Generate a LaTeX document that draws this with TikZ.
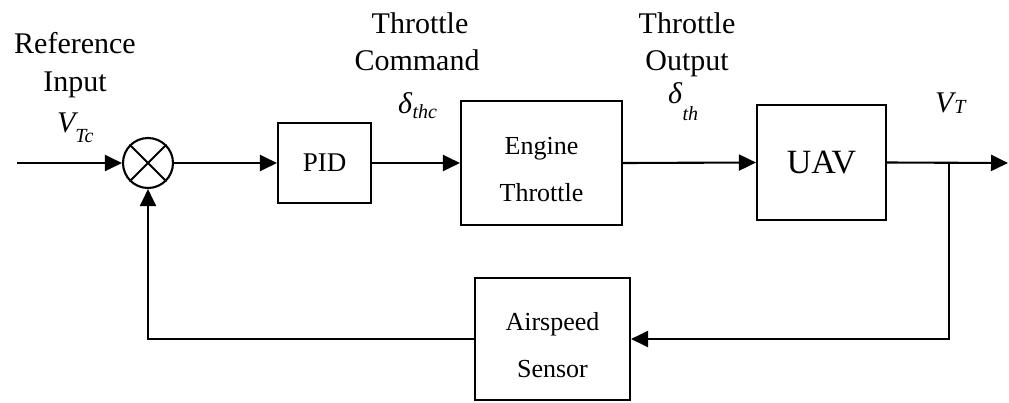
\documentclass[tikz,border=0pt]{standalone}
\usepackage{fontspec}
\setmainfont{Liberation Serif}
\usetikzlibrary{arrows.meta}
\begin{document}
\begin{tikzpicture}[x=1pt,y=-1pt,
  blk/.style={draw, line width=2.1pt, inner sep=0pt},
  blktxt/.style={font=\fontsize{26}{47}\selectfont, align=center, inner sep=0pt},
  lbl/.style={font=\fontsize{30}{36}\selectfont, inner sep=0pt, anchor=base},
  sym/.style={font=\fontsize{30}{36}\selectfont, inner sep=0pt, anchor=base west},
  conn/.style={line width=2.1pt},
  arr/.style={conn, -{Triangle[length=17pt,width=16pt]}},
]
\useasboundingbox (0,0) rectangle (1009,402);

% summing junction
\node[circle, draw, line width=2.1pt, minimum size=50pt, inner sep=0pt] (sum) at (148,163) {};
\draw[conn] (sum.north west) -- (sum.south east);
\draw[conn] (sum.north east) -- (sum.south west);

% blocks
\node[blk, minimum width=93pt, minimum height=80pt, font=\fontsize{27}{32}\selectfont] (pid) at (324.5,163) {PID};
\node[blk, minimum width=161pt, minimum height=124pt] (eng) at (541.5,163) {};
\node[blktxt] (engt) at ([yshift=-7pt]eng.center) {Engine\\Throttle};
\node[blk, minimum width=129pt, minimum height=115pt, font=\fontsize{34}{40}\selectfont] (uav) at (821.5,162.5) {UAV};
\node[blk, minimum width=155pt, minimum height=122pt] (sen) at (552.5,339) {};
\node[blktxt] (sent) at ([yshift=-6pt]sen.center) {Airspeed\\Sensor};

% coordinates
\coordinate (in) at (17,163);
\coordinate (out) at (1008,163);
\coordinate (br) at (949,163);
\coordinate (brd) at (949,339);
\coordinate (fbl) at (148,339);

% connectors
\draw[arr] (in) -- (sum.west);
\draw[arr] (sum.east) -- (pid.west);
\draw[arr] (pid.east) -- (eng.west);
\draw[arr] (eng.east) -- (uav.west);
\draw[arr] (uav.east) -- (out);
\draw[arr] (br) -- (brd) -- (sen.east);
\draw[arr] (sen.west) -- (fbl) -- (sum.south);

% labels
\node[lbl] (l1a) at (75,53) {Reference};
\node[lbl] (l1b) at (75,91) {Input};
\node[sym] (l1c) at (57,132) {\textit{V}\kern-3pt\raisebox{-10pt}{\fontsize{20}{20}\selectfont\itshape Tc}};

\node[lbl] (l2a) at (420,33) {Throttle};
\node[lbl] (l2b) at (417,70) {Command};
\node[sym] (l2c) at (398,113) {\textit{δ}\raisebox{-5pt}{\fontsize{20}{20}\selectfont\itshape thc}};

\node[lbl] (l3a) at (687,33) {Throttle};
\node[lbl] (l3b) at (687,70) {Output};
\node[sym] (l3c) at (668,103) {\textit{δ}\raisebox{-17pt}{\fontsize{20}{20}\selectfont\itshape th}};

\node[sym] (l4) at (935,112) {\textit{V}\kern-2pt\raisebox{-1pt}{\fontsize{20}{20}\selectfont\itshape T}};
\end{tikzpicture}
\end{document}
